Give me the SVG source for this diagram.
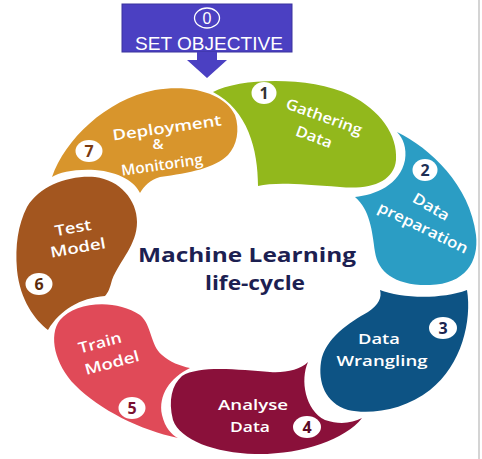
<svg xmlns="http://www.w3.org/2000/svg" width="482" height="459" viewBox="0 0 482 459">
<style>
.lbl{font-family:"Open Sans","Liberation Sans",sans-serif;font-weight:600;font-size:15px;fill:#fff;text-anchor:middle}
.num{font-family:"Open Sans","Liberation Sans",sans-serif;font-weight:700;font-size:16px;text-anchor:middle}
.badge{fill:#fff}
.title{font-family:"Open Sans","Liberation Sans",sans-serif;font-weight:700;font-size:20px;fill:#1c2051;text-anchor:middle}
</style>
<rect width="482" height="459" fill="#fff"/>
<line x1="479" y1="0" x2="479" y2="459" stroke="#d4d4d4" stroke-width="2"/>

<g id="objective">
<rect x="122" y="4" width="170" height="48" fill="#4b40c2" stroke="#3a339e" stroke-width="1"/>
<ellipse cx="207" cy="18" rx="12.5" ry="10" fill="none" stroke="#fff" stroke-width="1.3"/>
<text x="207" y="24" font-family="Liberation Sans, sans-serif" font-size="16" fill="#fff" text-anchor="middle">0</text>
<text x="209" y="50" font-family="Liberation Sans, sans-serif" font-size="18.5" fill="#fff" text-anchor="middle" textLength="148" lengthAdjust="spacingAndGlyphs">SET OBJECTIVE</text>
</g>

<g id="connectors">
<path d="M197,52 H217 V60 H227 L207,78 L187,60 H197 Z" fill="#4b40c2"/>
</g>

<g id="step1">
<path d="M213,92 C240,78 310,76 350,95 C380,110 398,135 396,160 C394,182 370,190 340,187 C300,184 275,182 258,186 C258,150 248,110 213,92 Z" fill="#92b81c"/>
<g transform="translate(324,117) rotate(20)"><text class="lbl" x="0" y="5" textLength="80" lengthAdjust="spacingAndGlyphs">Gathering</text></g>
<g transform="translate(314,137) rotate(20)"><text class="lbl" x="0" y="5" textLength="38" lengthAdjust="spacingAndGlyphs">Data</text></g>
<ellipse class="badge" cx="264" cy="93" rx="12.5" ry="11"/>
<text class="num" x="264" y="99" fill="#333">1</text>
</g>

<g id="step2">
<path d="M397,132 C430,148 470,185 476,235 C479,262 465,284 430,285 C395,286 378,272 375,252 C372,230 370,210 355,197 C375,195 400,185 405,160 C407,148 403,138 397,132 Z" fill="#2b9dc4"/>
<g transform="translate(431,207) rotate(30)"><text class="lbl" x="0" y="5" textLength="40" lengthAdjust="spacingAndGlyphs">Data</text></g>
<g transform="translate(423,228) rotate(26)"><text class="lbl" x="0" y="5" textLength="98" lengthAdjust="spacingAndGlyphs">preparation</text></g>
<ellipse class="badge" cx="425" cy="170" rx="12.5" ry="11"/>
<text class="num" x="425" y="176" fill="#1d2f55">2</text>
</g>

<g id="step3">
<path d="M380,290 C400,298 440,300 467,290 C472,320 462,365 430,390 C405,410 370,415 348,410 C325,403 318,382 321,362 C325,338 350,322 368,312 C379,305 382,297 380,290 Z" fill="#0d5384"/>
<text class="lbl" x="379" y="344" font-size="14.5" textLength="42" lengthAdjust="spacingAndGlyphs">Data</text>
<text class="lbl" x="382" y="366" font-size="14.5" textLength="91" lengthAdjust="spacingAndGlyphs">Wrangling</text>
<ellipse class="badge" cx="443" cy="328" rx="14" ry="11"/>
<text class="num" x="443" y="334" fill="#1a2550">3</text>
</g>

<g id="step4">
<path d="M362,418 C345,440 300,455 255,454 C215,453 180,440 173,420 C168,400 172,385 182,376 C200,365 240,370 270,372 C285,373 300,370 308,362 C300,380 305,410 325,420 C340,425 352,423 362,418 Z" fill="#8a103a"/>
<text class="lbl" x="253" y="410" textLength="70" lengthAdjust="spacingAndGlyphs">Analyse</text>
<text class="lbl" x="250" y="432" textLength="40" lengthAdjust="spacingAndGlyphs">Data</text>
<ellipse class="badge" cx="307" cy="427" rx="14" ry="11"/>
<text class="num" x="307" y="433" fill="#5a0b25">4</text>
</g>

<g id="step5">
<path d="M60,320 C75,302 115,298 140,315 C152,325 150,345 162,355 C170,362 180,366 190,368 C170,378 158,395 162,415 C165,428 172,435 178,438 C140,430 100,410 75,385 C55,365 48,335 60,320 Z" fill="#e04a58"/>
<g transform="translate(100,343) rotate(-15)"><text class="lbl" x="0" y="5" textLength="44" lengthAdjust="spacingAndGlyphs">Train</text></g>
<g transform="translate(112,363) rotate(-15)"><text class="lbl" x="0" y="5" textLength="56" lengthAdjust="spacingAndGlyphs">Model</text></g>
<ellipse class="badge" cx="132" cy="408" rx="13.5" ry="11"/>
<text class="num" x="132" y="414" fill="#7a1030">5</text>
</g>

<g id="step6">
<path d="M27,207 C40,185 70,175 95,177 C120,180 137,200 137,222 C137,245 120,260 112,280 C110,288 108,293 105,296 C80,298 60,310 48,330 C35,320 20,300 17,270 C15,245 18,225 27,207 Z" fill="#a3561f"/>
<g transform="translate(73,228) rotate(-10)"><text class="lbl" x="0" y="5" textLength="37" lengthAdjust="spacingAndGlyphs">Test</text></g>
<g transform="translate(78,248) rotate(-10)"><text class="lbl" x="0" y="5" textLength="56" lengthAdjust="spacingAndGlyphs">Model</text></g>
<ellipse class="badge" cx="39" cy="284" rx="13.5" ry="11"/>
<text class="num" x="39" y="290" fill="#5a2a0a">6</text>
</g>

<g id="step7">
<path d="M52,177 C65,140 105,100 155,90 C195,84 225,95 235,115 C240,130 237,145 228,155 C215,168 190,173 160,177 C150,180 144,186 140,193 C135,182 120,172 95,170 C75,169 60,172 52,177 Z" fill="#d8952c"/>
<g transform="translate(167,128) rotate(-8)"><text class="lbl" x="0" y="5" textLength="110" lengthAdjust="spacingAndGlyphs">Deployment</text></g>
<text class="lbl" x="158" y="149" font-size="14">&amp;</text>
<g transform="translate(162,165) rotate(-8)"><text class="lbl" x="0" y="5" textLength="82" lengthAdjust="spacingAndGlyphs">Monitoring</text></g>
<ellipse class="badge" cx="89" cy="151" rx="13.5" ry="11"/>
<text class="num" x="89" y="157" fill="#7a3a10">7</text>
</g>

<g id="center">
<text class="title" x="247" y="262" textLength="218" lengthAdjust="spacingAndGlyphs">Machine Learning</text>
<text class="title" x="255" y="290" textLength="100" lengthAdjust="spacingAndGlyphs">life-cycle</text>
</g>
</svg>
